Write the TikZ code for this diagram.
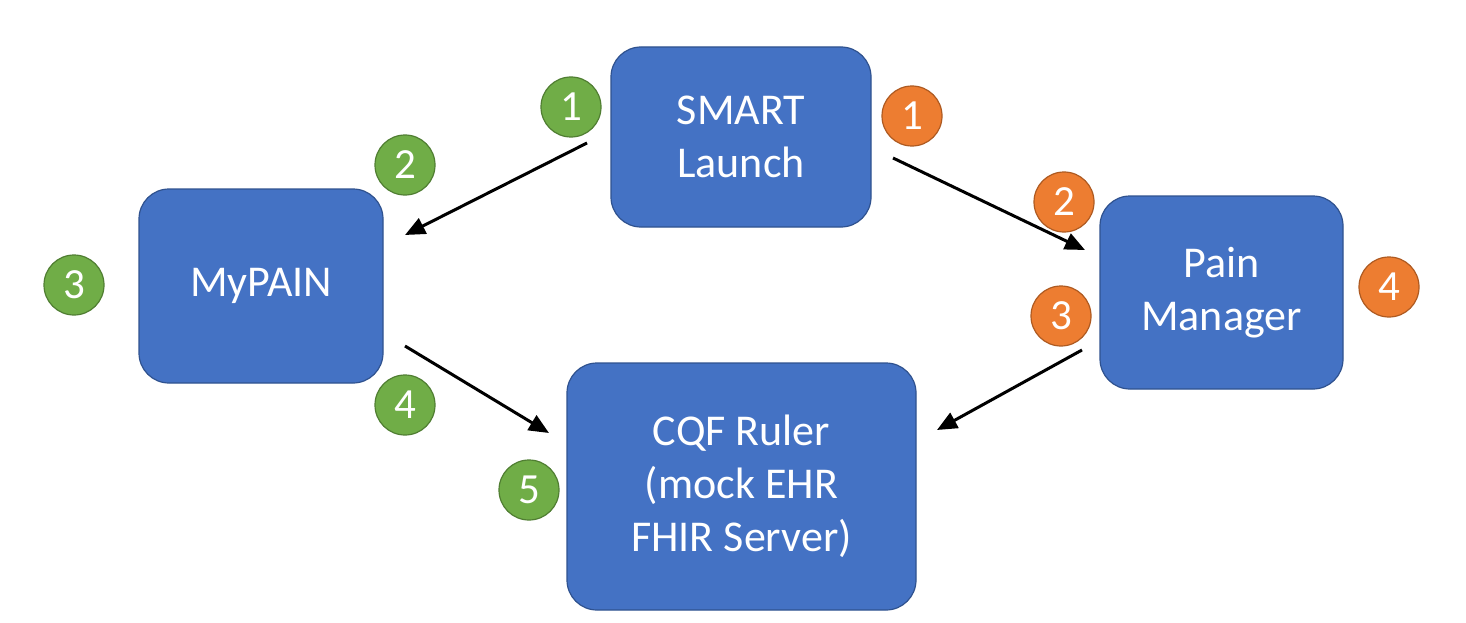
\documentclass[tikz,border=0pt]{standalone}
\usepackage{fontspec}
\setmainfont{Carlito}
\usetikzlibrary{arrows.meta}
\definecolor{boxfill}{HTML}{4472C4}
\definecolor{boxline}{HTML}{2F528F}
\definecolor{gfill}{HTML}{70AD47}
\definecolor{gline}{HTML}{507E32}
\definecolor{ofill}{HTML}{ED7D31}
\definecolor{oline}{HTML}{AE5A21}
\tikzset{
  box/.style={draw=boxline, fill=boxfill, line width=1.2pt, rounded corners=30pt, text=white, align=center,
    font=\fontsize{44}{53}\selectfont, inner sep=0pt},
  gnum/.style={circle, draw=gline, fill=gfill, line width=1.2pt, minimum size=60pt, inner sep=0pt, text=white, font=\fontsize{43}{43}\selectfont},
  onum/.style={circle, draw=oline, fill=ofill, line width=1.2pt, minimum size=60pt, inner sep=0pt, text=white, font=\fontsize{43}{43}\selectfont},
  conn/.style={line width=3pt, -{Triangle[length=20pt,width=17pt]}},
}
\begin{document}
\begin{tikzpicture}[x=1pt,y=-1pt]
\useasboundingbox (0,0) rectangle (1466,623);
% boxes
\node[box, minimum width=260pt, minimum height=180pt] (smart) at (741,137) {SMART\\Launch};
\node[box, minimum width=244pt, minimum height=194pt] (mypain) at (261,286) {MyPAIN};
\node[box, minimum width=243pt, minimum height=193pt] (pain) at (1221.5,292.5) {Pain\\Manager};
\node[box, minimum width=349pt, minimum height=247pt] (cqf) at (741.5,486.5) {CQF Ruler\\(mock EHR\\FHIR Server)};
% green numbers
\node[gnum] (g1) at (571,107) {1};
\node[gnum] (g2) at (405,165) {2};
\node[gnum] (g3) at (74,285) {3};
\node[gnum] (g4) at (405,405) {4};
\node[gnum] (g5) at (529,490) {5};
% orange numbers
\node[onum] (o1) at (912,116) {1};
\node[onum] (o2) at (1064,202) {2};
\node[onum] (o3) at (1061,316) {3};
\node[onum] (o4) at (1389,287) {4};
% connector ends
\coordinate (a1s) at (587,143);
\coordinate (a1e) at (405,235);
\coordinate (a2s) at (893,158);
\coordinate (a2e) at (1085,250);
\coordinate (a3s) at (405,346);
\coordinate (a3e) at (549,433);
\coordinate (a4s) at (1082,350);
\coordinate (a4e) at (937,430);
\draw[conn] (a1s) -- (a1e);
\draw[conn] (a2s) -- (a2e);
\draw[conn] (a3s) -- (a3e);
\draw[conn] (a4s) -- (a4e);
\end{tikzpicture}
\end{document}
